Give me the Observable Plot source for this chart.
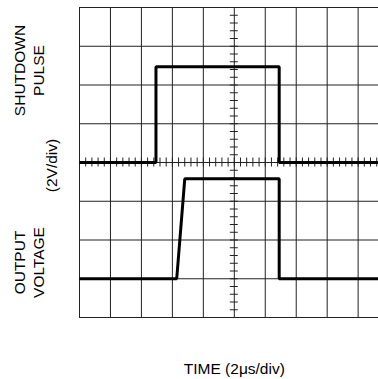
<!DOCTYPE html>
<html>
<head>
<meta charset="utf-8">
<script src="https://cdn.jsdelivr.net/npm/d3@7"></script>
<script src="https://cdn.jsdelivr.net/npm/@observablehq/plot@0.6"></script>
<style>
  html, body { margin: 0; padding: 0; background: #fff; overflow: hidden; }
  #chart { width: 378px; height: 379px; overflow: hidden; }
</style>
</head>
<body>
<div id="chart"></div>
<script>
// Time in divisions (2 µs/div), voltage in divisions (2 V/div)
const pulseTime = [0, 2.47, 2.47, 6.45, 6.45, 9.8];
const pulseValue = [0, 0, 2.47, 2.47, 0, 0];
const outTime = [0, 3.14, 3.40, 6.45, 6.45, 9.8];
const outValue = [-3, -3, -0.42, -0.42, -3, -3];

const gridX = [0, 1, 2, 3, 4, 5, 6, 7, 8, 9];
const gridY = [-4, -3, -2, -1, 0, 1, 2, 3, 4];
const minorX = d3.range(0, 49).map(i => i / 5);
const minorY = d3.range(0, 41).map(i => -4 + i / 5);

const upperLabel = ["SHUTDOWN", "PULSE"];
const scaleLabel = ["(2V/div)"];
const lowerLabel = ["OUTPUT", "VOLTAGE"];
const timeLabel = ["TIME (2μs/div)"];

const W = 378, H = 379;
const mL = 79, mR = 0, mT = 7, mB = 62;
const pxPerDivX = 30.96;
const pxPerDivY = (H - mT - mB) / 8;
const xMax = (W - mL - mR) / pxPerDivX;
const px2x = p => (p - mL) / pxPerDivX;
const py2y = p => 4 - (p - mT) / pxPerDivY;
const tickHalfY = 4.5 / pxPerDivY;
const tickHalfX = 4 / pxPerDivX;

const pulse = pulseTime.map((t, i) => ({t, v: pulseValue[i]}));
const out = outTime.map((t, i) => ({t, v: outValue[i]}));

const font = "'Liberation Sans', Arial, Helvetica, sans-serif";
const fs = 15.5;

const chart = Plot.plot({
  width: W,
  height: H,
  marginLeft: mL,
  marginRight: mR,
  marginTop: mT,
  marginBottom: mB,
  style: {fontFamily: font, background: "#fff", overflow: "hidden"},
  x: {domain: [0, xMax], axis: null},
  y: {domain: [-4, 4], axis: null},
  marks: [
    Plot.ruleX(gridX, {x: d => d, stroke: "#222", strokeWidth: 1}),
    Plot.ruleY(gridY, {y: d => d, stroke: "#222", strokeWidth: 1}),
    Plot.ruleX(minorX, {x: d => d, y1: -tickHalfY, y2: tickHalfY, stroke: "#222", strokeWidth: 1}),
    Plot.ruleY(minorY, {y: d => d, x1: 5 - tickHalfX, x2: 5 + tickHalfX, stroke: "#222", strokeWidth: 1}),
    Plot.line(pulse, {x: "t", y: "v", stroke: "#000", strokeWidth: 3, clip: true, strokeLinejoin: "miter", strokeLinecap: "butt"}),
    Plot.line(out, {x: "t", y: "v", stroke: "#000", strokeWidth: 3, clip: true, strokeLinejoin: "miter", strokeLinecap: "butt"}),
    Plot.text(upperLabel, {text: d => d, x: (d, i) => px2x(i === 0 ? 19.5 : 38.5), y: py2y(70), rotate: -90, fontSize: fs, fill: "#000", textAnchor: "middle", lineAnchor: "middle"}),
    Plot.text(scaleLabel, {text: d => d, x: px2x(51.5), y: py2y(165), rotate: -90, fontSize: fs, fill: "#000", textAnchor: "middle", lineAnchor: "middle"}),
    Plot.text(lowerLabel, {text: d => d, x: (d, i) => px2x(i === 0 ? 19.5 : 38.5), y: py2y(262), rotate: -90, fontSize: fs, fill: "#000", textAnchor: "middle", lineAnchor: "middle"}),
    Plot.text(timeLabel, {text: d => d, x: 5, y: py2y(368.5), fontSize: fs, fill: "#000", textAnchor: "middle", lineAnchor: "middle"})
  ]
});
document.getElementById("chart").appendChild(chart);
</script>
</body>
</html>
